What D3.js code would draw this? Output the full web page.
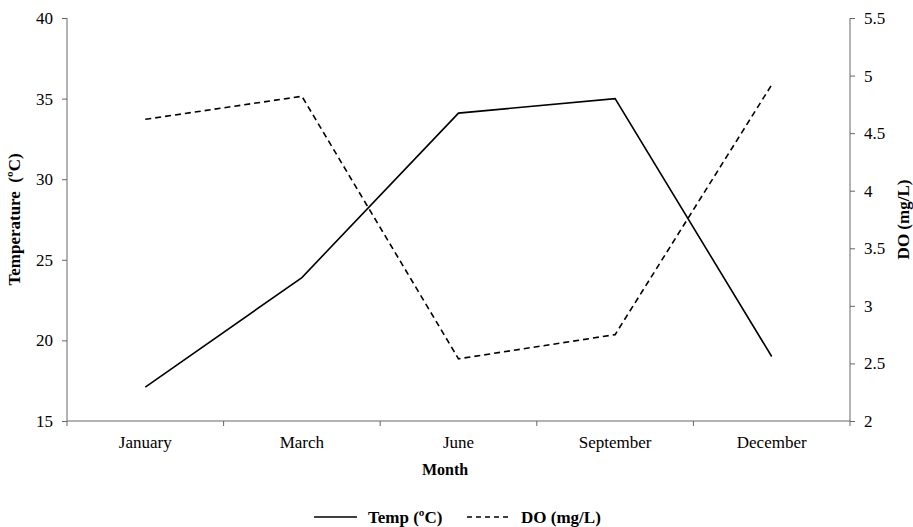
<!DOCTYPE html>
<html>
<head>
<meta charset="utf-8">
<script src="https://cdn.jsdelivr.net/npm/d3@7"></script>
<style>
  body { margin: 0; background: #fff; }
</style>
</head>
<body>
<script>
const months = ["January", "March", "June", "September", "December"]
const temp = [17.1, 23.9, 34.1, 35.0, 19.0]
const dissolvedOxygen = [4.62, 4.82, 2.54, 2.75, 4.92]
const tempTicks = [15, 20, 25, 30, 35, 40]
const doTicks = [2, 2.5, 3, 3.5, 4, 4.5, 5, 5.5]

const width = 913, height = 527
const margin = { top: 18, right: 63, bottom: 106, left: 67 }
const axisColor = "#666"
const serif = "'Liberation Serif', 'Times New Roman', Times, 'DejaVu Serif', serif"

const svg = d3.select("body").append("svg")
    .attr("width", width)
    .attr("height", height)
    .style("font-family", serif)

const x = d3.scaleBand().domain(months).range([margin.left, width - margin.right])
const yL = d3.scaleLinear().domain([15, 40]).range([height - margin.bottom, margin.top])
const yR = d3.scaleLinear().domain([2, 5.5]).range([height - margin.bottom, margin.top])

// x axis, ticks sit on the band edges
const xAxis = svg.append("g").attr("transform", `translate(0,${height - margin.bottom})`)
xAxis.append("line")
    .attr("x1", margin.left).attr("x2", width - margin.right)
    .attr("stroke", axisColor)
const edges = months.map(m => x(m)).concat([x.range()[1]])
xAxis.selectAll(".edge").data(edges).join("line")
    .attr("x1", d => d).attr("x2", d => d)
    .attr("y1", 0).attr("y2", 5)
    .attr("stroke", axisColor)
xAxis.selectAll(".lbl").data(months).join("text")
    .attr("x", d => x(d) + x.bandwidth() / 2)
    .attr("y", 27)
    .attr("text-anchor", "middle")
    .attr("font-size", 17)
    .style("font-family", serif)
    .text(d => d)

const left = svg.append("g")
    .attr("transform", `translate(${margin.left},0)`)
    .call(d3.axisLeft(yL).tickValues(tempTicks).tickSize(5).tickPadding(9))
const right = svg.append("g")
    .attr("transform", `translate(${width - margin.right},0)`)
    .call(d3.axisRight(yR).tickValues(doTicks).tickSize(5).tickPadding(9).tickFormat(d3.format("")))
for (const g of [left, right]) {
    g.attr("font-family", null).attr("font-size", null)
    g.select(".domain").attr("stroke", axisColor)
        .attr("d", `M0,${margin.top}V${height - margin.bottom}`)
    g.selectAll(".tick line").attr("stroke", axisColor)
    g.selectAll(".tick text").attr("font-size", 17).attr("fill", "#000")
        .style("font-family", serif)
}

const line = yScale => d3.line()
    .x((d, i) => x(months[i]) + x.bandwidth() / 2)
    .y(d => yScale(d))

svg.append("path").datum(temp)
    .attr("d", line(yL))
    .attr("fill", "none").attr("stroke", "#000").attr("stroke-width", 1.6)

svg.append("path").datum(dissolvedOxygen)
    .attr("d", line(yR))
    .attr("fill", "none").attr("stroke", "#000").attr("stroke-width", 1.6)
    .attr("stroke-dasharray", "6,4")

// axis titles
const midY = (margin.top + height - margin.bottom) / 2
svg.append("text")
    .attr("transform", `translate(20,${midY}) rotate(-90)`)
    .attr("text-anchor", "middle").attr("font-weight", "bold").attr("font-size", 17)
    .text("Temperature\u00a0 (ºC)")
svg.append("text")
    .attr("transform", `translate(909,${midY}) rotate(-90)`)
    .attr("text-anchor", "middle").attr("font-weight", "bold").attr("font-size", 17)
    .text("DO (mg/L)")
svg.append("text")
    .attr("x", 445).attr("y", 475)
    .attr("text-anchor", "middle").attr("font-weight", "bold").attr("font-size", 16)
    .text("Month")

// legend
const legend = [
    { label: "Temp (ºC)", x: 314, dash: null },
    { label: "DO (mg/L)", x: 467, dash: "5,4" }
]
const lg = svg.selectAll(".legend").data(legend).join("g")
    .attr("transform", d => `translate(${d.x},517)`)
lg.append("line")
    .attr("x1", 0).attr("x2", 43)
    .attr("stroke", "#000").attr("stroke-width", 1.6)
    .attr("stroke-dasharray", d => d.dash)
lg.append("text")
    .attr("x", 54).attr("y", 6)
    .attr("font-weight", "bold").attr("font-size", 17)
    .text(d => d.label)
</script>
</body>
</html>
